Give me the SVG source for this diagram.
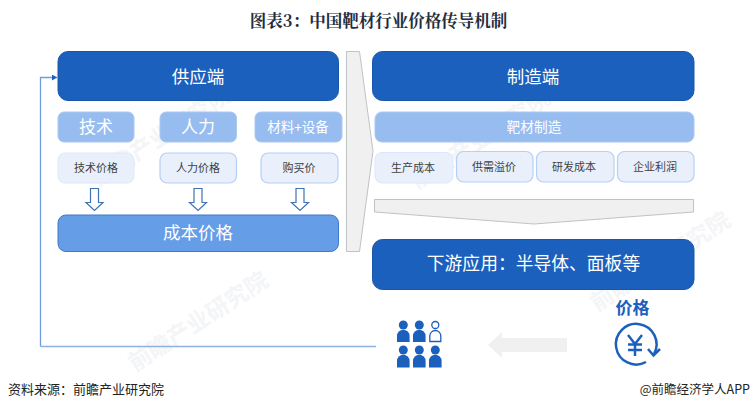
<svg xmlns="http://www.w3.org/2000/svg" width="756" height="410" viewBox="0 0 756 410">
<defs>
<style>
text{font-family:"Noto Sans CJK SC","Liberation Sans",sans-serif;text-anchor:middle}
.dark{fill:#1c60bd;stroke:#1a56a8;stroke-width:1}
.mid{fill:#659de6;stroke:#3f78c4;stroke-width:1}
.lite{fill:#97bcef;stroke:#a9c8f2;stroke-width:1}
.pale{fill:#e9f0fb;stroke:#b5d0f5;stroke-width:1.2}
.pale2{fill:#e9f0fb;stroke:#dce8f9;stroke-width:1}
.w{fill:#fff}
.k{fill:#404040;font-size:11px}
.big{fill:#f0f0f0;stroke:#bfc3c6;stroke-width:1}
.dn{fill:#fff;stroke:#3f72b5;stroke-width:1.2}
.ic{fill:#1c60bd}
.wm{fill:#f4f5f7;font-size:23px;font-weight:700}
</style>
<marker id="ah" markerUnits="userSpaceOnUse" markerWidth="7" markerHeight="7" refX="5" refY="3" orient="auto"><path d="M0 0L5 3L0 6z" fill="#1c60bd"/></marker>
</defs>
<rect width="756" height="410" fill="#fff"/>
<g id="watermarks">
<text class="wm" transform="translate(98,187) rotate(-33)" style="text-anchor:start">前瞻产业研究院</text>
<text class="wm" transform="translate(417,190) rotate(-33)" style="text-anchor:start">前瞻产业研究院</text>
<text class="wm" transform="translate(597,312) rotate(-33)" style="text-anchor:start">前瞻产业研究院</text>
<text class="wm" transform="translate(135,372) rotate(-33)" style="text-anchor:start">前瞻产业研究院</text>
</g>
<text x="378.500" y="27" style="font-family:'Noto Serif CJK SC','Noto Sans CJK SC',serif;font-size:16.500px;font-weight:700" fill="#1f2d3d">图表3：中国靶材行业价格传导机制</text>
<g id="connectors">
<path d="M40.500 346.500V77.500H57" fill="none" stroke="#6f9ddd" stroke-width="1.300" marker-end="url(#ah)"/>
<path d="M40.500 346.500H376" fill="none" stroke="#8fb0e2" stroke-width="1.500"/>
<path class="big" d="M346.500 51.500H359.500L373 151L359.500 251.500H346.500z"/>
<path class="big" d="M374.500 199.500H693.500V212L534 224L374.500 212z"/>
<path class="dn" d="M90.500 188.500H98.500V202.500H103L94.500 210.500L86 202.500H90.500z"/>
<path class="dn" d="M194 188.500H202V202.500H206.500L198 210.500L189.500 202.500H194z"/>
<path class="dn" d="M296 188.500H304V202.500H308.500L300 210.500L291.500 202.500H296z"/>
<path d="M488 345L502 332V338H567V352H502V358z" fill="#f0f0f0"/>
</g>
<g id="supply"><rect class="dark" x="58" y="51.500" width="280.500" height="49" rx="10"/><text class="w" x="198" y="83" font-size="17.500">供应端</text></g>
<g id="tech"><rect class="lite" x="58" y="112" width="76" height="30" rx="6"/><text class="w" x="96" y="133" font-size="17">技术</text></g>
<g id="labor"><rect class="lite" x="160" y="112" width="76.500" height="30" rx="6"/><text class="w" x="198" y="133" font-size="17">人力</text></g>
<g id="material"><rect class="lite" x="255" y="112" width="87" height="30" rx="6"/><text class="w" x="298" y="132" font-size="13.500">材料+设备</text></g>
<g id="techprice"><rect class="pale2" x="58" y="153" width="76" height="30" rx="7"/><text class="k" x="96" y="172">技术价格</text></g>
<g id="laborprice"><rect class="pale" x="160" y="153" width="76.500" height="30" rx="7"/><text class="k" x="198" y="172">人力价格</text></g>
<g id="purchase"><rect class="pale" x="261" y="153" width="77" height="30" rx="7"/><text class="k" x="299" y="172">购买价</text></g>
<g id="cost"><rect class="mid" x="58" y="215" width="280.500" height="36.500" rx="8"/><text class="w" x="198" y="239" font-size="17.500">成本价格</text></g>
<g id="manufacture"><rect class="dark" x="372.500" y="51.500" width="321.500" height="49" rx="10"/><text class="w" x="533" y="83" font-size="17.500">制造端</text></g>
<g id="target"><rect class="lite" x="375" y="112" width="319" height="30" rx="7"/><text class="w" x="534" y="132" font-size="13.700">靶材制造</text></g>
<g id="c1"><rect class="pale2" x="375" y="152.500" width="78" height="30.500" rx="7"/><text class="k" x="413" y="172">生产成本</text></g>
<g id="c2"><rect class="pale" x="456.500" y="151.500" width="76.500" height="30.500" rx="7"/><text class="k" x="494" y="171">供需溢价</text></g>
<g id="c3"><rect class="pale" x="536.500" y="151.500" width="77.500" height="30.500" rx="7"/><text class="k" x="574" y="171">研发成本</text></g>
<g id="c4"><rect class="pale" x="617.500" y="151.500" width="76.500" height="30.500" rx="7"/><text class="k" x="655" y="171">企业利润</text></g>
<g id="downstream"><rect class="dark" x="372.500" y="239.500" width="321.500" height="50" rx="10"/><text class="w" x="533.500" y="270" font-size="17.800">下游应用：半导体、面板等</text></g>
<g id="people" class="ic">
<circle cx="403.300" cy="325" r="4.500"/><path d="M397 342V336a6.300 6.300 0 0 1 12.600 0V342z"/>
<circle cx="419.300" cy="325" r="4.500"/><path d="M413 342V336a6.300 6.300 0 0 1 12.600 0V342z"/>
<circle cx="435.300" cy="325" r="3.500" fill="#fff" stroke="#1c60bd" stroke-width="1.300"/><path d="M429.800 341.500V336a5.500 5.500 0 0 1 11 0V341.500z" fill="#fff" stroke="#1c60bd" stroke-width="1.300"/>
<circle cx="403.300" cy="350" r="4.500"/><path d="M397 367.500V361a6.300 6.300 0 0 1 12.600 0V367.500z"/>
<circle cx="419.300" cy="350" r="4.500"/><path d="M413 367.500V361a6.300 6.300 0 0 1 12.600 0V367.500z"/>
<circle cx="435.300" cy="350" r="4.500"/><path d="M429 367.500V361a6.300 6.300 0 0 1 12.600 0V367.500z"/>
</g>
<g id="price">
<text x="632.500" y="314" font-size="17" font-weight="700" fill="#1c60bd">价格</text>
<path d="M646 362A20.300 20.300 0 1 1 654 354" fill="none" stroke="#1c60bd" stroke-width="2.500"/>
<path d="M648 349L653.500 355.500L660 349" fill="none" stroke="#1c60bd" stroke-width="2.500"/>
<path d="M628 335L635 344L642 335M635 344V356M628 344.500H642M628 350H642" fill="none" stroke="#1c60bd" stroke-width="2.500"/>
</g>
<text x="8" y="394" font-size="13" fill="#222" style="text-anchor:start">资料来源：前瞻产业研究院</text>
<text x="750" y="394" font-size="12.500" fill="#222" style="text-anchor:end">@前瞻经济学人APP</text>
</svg>
